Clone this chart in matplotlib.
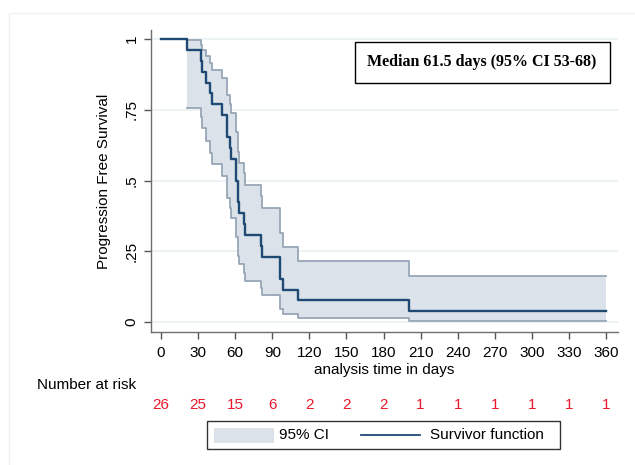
import numpy as np
import matplotlib.pyplot as plt
from matplotlib.patches import Rectangle
from matplotlib.lines import Line2D
import matplotlib.transforms as mtransforms

plt.rcParams['font.family'] = ['Liberation Sans', 'DejaVu Sans']

# ----------------------------------------------------------
# Data
# ----------------------------------------------------------
step_times = [0, 21, 32, 33, 36, 40, 41, 49, 53, 56, 57, 61, 62, 63, 67, 68,
              81, 82, 96, 99, 111, 201]
surv = [1.0, 0.962, 0.923, 0.885, 0.846, 0.808, 0.769, 0.731, 0.654, 0.615,
        0.577, 0.500, 0.423, 0.385, 0.346, 0.308, 0.269, 0.231, 0.154, 0.115,
        0.077, 0.038]
ci_upper = [1.0, 0.995, 0.980, 0.961, 0.939, 0.915, 0.889, 0.862, 0.803,
            0.771, 0.739, 0.672, 0.600, 0.563, 0.525, 0.486, 0.445, 0.403,
            0.315, 0.267, 0.217, 0.164]
ci_lower = [1.0, 0.757, 0.726, 0.684, 0.641, 0.598, 0.557, 0.517, 0.440,
            0.403, 0.368, 0.299, 0.235, 0.204, 0.175, 0.146, 0.119, 0.094,
            0.048, 0.029, 0.013, 0.003]
end_time = 360

risk_times = [0, 30, 60, 90, 120, 150, 180, 210, 240, 270, 300, 330, 360]
at_risk = [26, 25, 15, 6, 2, 2, 2, 1, 1, 1, 1, 1, 1]

y_ticks = [0, 0.25, 0.5, 0.75, 1]
y_tick_labels = ["0", ".25", ".5", ".75", "1"]

median_text = "Median 61.5 days (95% CI 53-68)"

# ----------------------------------------------------------
# Figure
# ----------------------------------------------------------
W, H = 635, 465
fig = plt.figure(figsize=(W / 100, H / 100), dpi=100)


def fx(px):
    return px / W


def fy(py):
    return 1 - py / H


ax = fig.add_axes([fx(151), fy(332), fx(618) - fx(151), fy(30) - fy(332)])

t = np.array(step_times + [end_time])
s = np.array(surv + [surv[-1]])
up = np.array(ci_upper + [ci_upper[-1]])
lo = np.array(ci_lower + [ci_lower[-1]])

fill_col = "#dce2ea"
edge_col = "#97a6b6"
line_col = "#1f4a73"

for yv in y_ticks:
    ax.axhline(yv, color="#eaf1f3", lw=1.2, zorder=0)

# CI band (starts at first event)
ax.fill_between(t[1:], lo[1:], up[1:], step="post", color=fill_col,
                lw=0, zorder=1)
ax.step(t[1:], up[1:], where="post", color=edge_col, lw=1.3, zorder=2)
ax.step(t[1:], lo[1:], where="post", color=edge_col, lw=1.3, zorder=2)

ax.step(t, s, where="post", color=line_col, lw=1.7, zorder=3)

ax.set_xlim(-8.1, 369.7)
ax.set_ylim(-0.035, 1.032)

ax.set_xticks(risk_times)
ax.set_yticks(y_ticks)
ax.set_yticklabels(y_tick_labels, rotation=90, va="center")

for side in ["top", "right"]:
    ax.spines[side].set_visible(False)
for side in ["left", "bottom"]:
    ax.spines[side].set_color("#6e6e6e")
    ax.spines[side].set_linewidth(1.0)

ax.tick_params(axis="both", colors="#555555", labelcolor="black",
               length=5, width=1.0, labelsize=11)
ax.tick_params(axis="y", pad=4)
ax.tick_params(axis="x", pad=5)

ax.set_xlabel("analysis time in days", fontsize=11, labelpad=2)
ax.set_ylabel("Progression Free Survival", fontsize=11, labelpad=10)

# median annotation box
ax.text(0.709, 0.893, median_text, transform=ax.transAxes,
        family=["Liberation Serif", "DejaVu Serif"], fontweight="bold",
        fontsize=11.5, ha="center", va="center",
        bbox=dict(boxstyle="square,pad=0.8", fc="white", ec="black", lw=1.0))

# number at risk table
fig.text(fx(87), fy(385), "Number at risk", fontsize=11,
         ha="center", va="center")
trans = mtransforms.blended_transform_factory(ax.transData, fig.transFigure)
for xv, n in zip(risk_times, at_risk):
    fig.text(xv, fy(405), str(n), transform=trans, fontsize=11,
             color="#e8192c", ha="center", va="center")

# legend drawn by hand
fig.patches.append(Rectangle((fx(207), fy(449)), fx(560) - fx(207),
                             fy(421) - fy(449), transform=fig.transFigure,
                             fc="white", ec="#333333", lw=1.0))
fig.patches.append(Rectangle((fx(214), fy(443)), fx(274) - fx(214),
                             fy(428) - fy(443), transform=fig.transFigure,
                             fc=fill_col, ec="none"))
fig.text(fx(279), fy(435), "95% CI", fontsize=11, ha="left", va="center")
fig.lines.append(Line2D([fx(361), fx(420)], [fy(434.5), fy(434.5)],
                        transform=fig.transFigure, color=line_col, lw=1.3))
fig.text(fx(430), fy(435), "Survivor function", fontsize=11,
         ha="left", va="center")

# faint outer frame of the graph region
fig.lines.append(Line2D([fx(9), fx(9), fx(635)], [fy(465), fy(13), fy(13)],
                        transform=fig.transFigure, color="#eef1f1", lw=1.0))

fig.savefig("out.png", dpi=100)
